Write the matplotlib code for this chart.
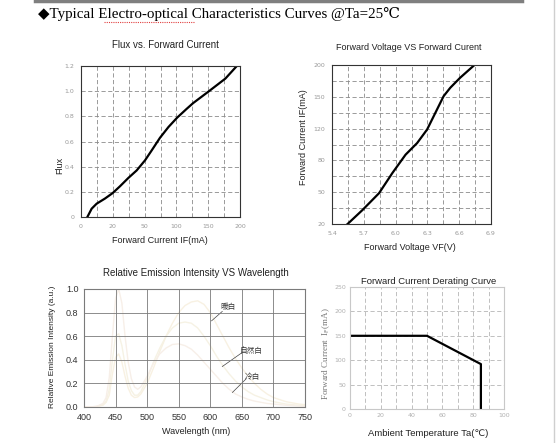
import matplotlib
matplotlib.use("Agg")
import matplotlib.pyplot as plt
from matplotlib.lines import Line2D

W, H = 557, 443

# --- Flux vs. Forward Current (x, y in plotted axis units) ---
flux_x = [8, 13.4, 19.7, 30, 39.8, 49, 59.5, 70, 80.5, 89, 99.4, 110, 121, 133, 141, 161, 181.6, 196]
flux_y = [0, 0.066, 0.106, 0.146, 0.19, 0.244, 0.31, 0.37, 0.45, 0.53, 0.63, 0.715, 0.79, 0.86, 0.905, 1.0, 1.10, 1.2]
flux_xticklabels = ["0", "20", "50", "100", "150", "200"]
flux_yticklabels = ["0", "0.2", "0.4", "0.6", "0.8", "1.0", "1.2"]

# --- Forward Voltage VS Forward Current ---
vf = [5.547, 5.6875, 5.844, 5.969, 6.094, 6.203, 6.297, 6.375, 6.453, 6.516, 6.609, 6.744]
if_div = [0, 17.6, 38.8, 64, 87.2, 101.8, 118.8, 139.8, 160.8, 171.4, 184, 200]
vf_xticks = [5.4, 5.7, 6.0, 6.3, 6.6, 6.9]
if_yticklabels = ["20", "50", "80", "120", "150", "200"]

# --- Relative emission spectrum ---
wl = [400, 410, 420, 430, 435, 440, 445, 450, 455, 460, 465, 470, 475, 480, 485, 490,
      500, 510, 520, 530, 540, 550, 560, 570, 580, 590, 600, 610, 620, 630, 640, 650,
      660, 670, 680, 690, 700, 720, 740, 750]
cool = [0, 0, 0.005, 0.03, 0.08, 0.25, 0.6, 0.92, 1.0, 0.88, 0.6, 0.38, 0.24, 0.17, 0.15, 0.17,
        0.26, 0.37, 0.45, 0.5, 0.53, 0.535, 0.52, 0.49, 0.44, 0.38, 0.32, 0.26, 0.2, 0.15, 0.11, 0.085,
        0.065, 0.05, 0.04, 0.03, 0.025, 0.015, 0.008, 0.005]
natural = [0, 0, 0.005, 0.02, 0.05, 0.15, 0.4, 0.6, 0.62, 0.52, 0.36, 0.22, 0.14, 0.1, 0.1, 0.13,
           0.24, 0.38, 0.5, 0.6, 0.67, 0.71, 0.72, 0.71, 0.67, 0.6, 0.52, 0.43, 0.35, 0.28, 0.22, 0.17,
           0.13, 0.1, 0.08, 0.06, 0.045, 0.025, 0.015, 0.01]
warm = [0, 0, 0.004, 0.015, 0.04, 0.1, 0.28, 0.42, 0.45, 0.38, 0.26, 0.16, 0.1, 0.08, 0.085, 0.11,
        0.2, 0.33, 0.47, 0.6, 0.71, 0.8, 0.86, 0.89, 0.9, 0.87, 0.8, 0.7, 0.6, 0.5, 0.41, 0.33,
        0.26, 0.2, 0.15, 0.11, 0.08, 0.045, 0.025, 0.02]
spec_names = ["暖白", "自然白", "冷白"]
spec_text_xy = [(628, 0.845), (665, 0.476), (666, 0.256)]
spec_point_xy = [(602, 0.73), (619, 0.343), (635, 0.123)]
spec_line_end = [(619, 0.81), (649, 0.456), (657, 0.24)]

# --- Derating curve ---
ta = [0, 50, 85, 85]
if_max = [150, 150, 92, 0]


def axes_px(left, top, right, bottom):
    return fig.add_axes([left / W, 1 - bottom / H, (right - left) / W, (bottom - top) / H])


def text_px(x, y, s, **kw):
    kw.setdefault("ha", "center")
    kw.setdefault("va", "center")
    fig.text(x / W, 1 - y / H, s, **kw)


sans = ["Liberation Sans", "DejaVu Sans"]
serif = ["Liberation Serif", "DejaVu Serif", "DejaVu Sans"]

fig = plt.figure(figsize=(W / 100, H / 100), dpi=100)
fig.patch.set_facecolor("white")

# page decorations
fig.add_artist(Line2D([35 / W, 522 / W], [1 - 1 / H, 1 - 1 / H], color="#7f7f7f", lw=2.5))
fig.add_artist(Line2D([554 / W, 554 / W], [0, 1], color="#cfcfcf", lw=1))
text_px(38, 14, "◆Typical Electro-optical Characteristics Curves @Ta=25℃", ha="left",
        fontsize=10.8, family=serif, color="black")
fig.add_artist(Line2D([104 / W, 194 / W], [1 - 21.5 / H, 1 - 21.5 / H], color="#e04040",
                      lw=0.8, ls=(0, (1, 1))))

dash = (0, (5, 3))

# Chart 1
ax1 = axes_px(81, 66, 240, 217)
ax1.plot(flux_x, flux_y, color="black", lw=1.6)
ax1.set_xlim(0, 200)
ax1.set_ylim(0, 1.2)
ax1.set_xticks(range(0, 201, 20), minor=True)
ax1.set_xticks(range(0, 201, 40))
ax1.set_xticklabels(flux_xticklabels)
ax1.set_yticks([i * 0.2 for i in range(7)])
ax1.set_yticklabels(flux_yticklabels)
ax1.grid(True, which="both", color="#8a8a8a", lw=0.6, ls=dash)
for s in ax1.spines.values():
    s.set_color("#333333")
ax1.tick_params(which="both", length=0, labelsize=4.5, labelcolor="#999999", pad=5)
text_px(165, 45, "Flux vs. Forward Current", fontsize=7, family=sans, color="#222222")
text_px(160, 240, "Forward Current IF(mA)", fontsize=6.5, family=sans, color="#222222")
text_px(60, 165, "Flux", fontsize=6.5, family=sans, color="#222222", rotation=90)

# Chart 2
ax2 = axes_px(332, 65, 491, 224)
ax2.plot(vf, if_div, color="black", lw=1.6)
ax2.set_xlim(5.4, 6.9)
ax2.set_ylim(0, 200)
ax2.set_xticks([5.4 + 0.15 * i for i in range(11)], minor=True)
ax2.set_xticks(vf_xticks)
ax2.set_xticklabels([f"{v:.1f}" for v in vf_xticks])
ax2.set_yticks(range(0, 201, 20), minor=True)
ax2.set_yticks(range(0, 201, 40))
ax2.set_yticklabels(if_yticklabels)
ax2.grid(True, which="both", color="#8a8a8a", lw=0.6, ls=dash)
for s in ax2.spines.values():
    s.set_color("#333333")
ax2.tick_params(which="both", length=0, labelsize=4.5, labelcolor="#999999", pad=5)
text_px(409, 48, "Forward Voltage VS Forward Curent", fontsize=6.5, family=sans, color="#222222")
text_px(410, 247, "Forward Voltage VF(V)", fontsize=6.5, family=sans, color="#222222")
text_px(303, 137, "Forward Current IF(mA)", fontsize=6.5, family=sans, color="#222222", rotation=90)

# Chart 3 (very pale curves, as in the scan)
ax3 = axes_px(84, 289, 305, 407)
for vals, col in zip([warm, natural, cool], ["#f8f1e2", "#f6f2e4", "#f7efe8"]):
    ax3.plot(wl, vals, color=col, lw=1.0)
ax3.set_xlim(400, 750)
ax3.set_ylim(0, 1.0)
ax3.set_xticks(range(400, 751, 50))
ax3.set_yticks([0, 0.2, 0.4, 0.6, 0.8, 1.0])
ax3.set_yticklabels(["0.0", "0.2", "0.4", "0.6", "0.8", "1.0"])
ax3.grid(True, color="#7a7a7a", lw=0.6)
ax3.set_axisbelow(False)
for s in ax3.spines.values():
    s.set_color("#7a7a7a")
narrow = ["Liberation Sans Narrow", "Liberation Sans", "DejaVu Sans"]
ax3.tick_params(length=0, labelsize=6.5, labelcolor="#333333", pad=4)
for lab in ax3.get_xticklabels() + ax3.get_yticklabels():
    lab.set_family(narrow)
for name, txy, pxy, exy in zip(spec_names, spec_text_xy, spec_point_xy, spec_line_end):
    ax3.plot([pxy[0], exy[0]], [pxy[1], exy[1]], color="#444444", lw=0.5)
    ax3.text(txy[0], txy[1], name, fontsize=5.5, ha="center", va="center", color="#333333",
             family=["Noto Sans CJK SC", "DejaVu Sans"])
text_px(196, 273, "Relative Emission Intensity VS Wavelength", fontsize=7, family=sans, color="#222222")
text_px(196, 431, "Wavelength (nm)", fontsize=6.5, family=sans, color="#222222")
text_px(52, 347, "Relative Emission Intensity (a.u.)", fontsize=6, family=sans, color="#222222",
        rotation=90)

# Chart 4
ax4 = axes_px(350, 287, 504, 409)
ax4.plot(ta, if_max, color="black", lw=1.6)
ax4.set_xlim(0, 100)
ax4.set_ylim(0, 250)
ax4.set_xticks(range(0, 101, 10), minor=True)
ax4.set_xticks(range(0, 101, 20))
ax4.set_yticks(range(0, 251, 50))
ax4.grid(True, which="both", color="#b5b5b5", lw=0.6, ls=dash)
for s in ax4.spines.values():
    s.set_color("#c8c8c8")
ax4.tick_params(which="both", length=0, labelsize=4.5, labelcolor="#b0b0b0", pad=3)
text_px(429, 281, "Forward Current Derating Curve", fontsize=6.8, family=sans, color="#222222")
text_px(428, 433, "Ambient Temperature Ta(℃)", fontsize=6.8, family=sans, color="#222222")
text_px(326, 354, r"Forward Current  I$_\mathrm{F}$(mA)", fontsize=6.5, family=serif,
        color="#777777", rotation=90)

fig.savefig("out.png", dpi=100, facecolor="white")
